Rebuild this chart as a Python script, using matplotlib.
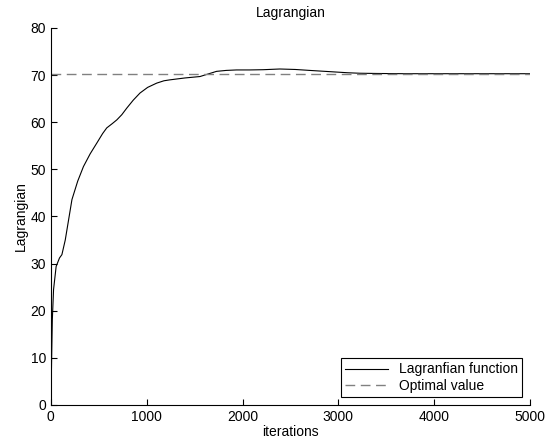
import matplotlib.pyplot as plt

plt.rcParams['font.family'] = ['Liberation Sans', 'DejaVu Sans']

# values
iterations = [0, 8, 15, 28, 55, 90, 115, 150, 220, 280, 340, 410, 480, 540, 583, 640,
              688, 740, 792, 860, 930, 1010, 1104, 1180, 1243, 1400, 1556, 1650, 1729,
              1830, 1937, 2076, 2215, 2389, 2550, 2700, 2940, 3100, 3222, 3400, 3700,
              4000, 4500, 5000]
lagrangian = [0, 10, 18, 24.5, 29.4, 31.2, 31.9, 35, 43.6, 47.5, 50.6, 53.3, 55.6, 57.6,
              58.8, 59.7, 60.5, 61.6, 63, 64.7, 66.2, 67.4, 68.3, 68.8, 69.0, 69.4, 69.7,
              70.3, 70.8, 71.0, 71.1, 71.1, 71.15, 71.3, 71.2, 71.0, 70.7, 70.5, 70.4,
              70.35, 70.3, 70.3, 70.3, 70.3]
optimal_value = 70.3

fig = plt.figure(figsize=(5.47, 4.48), dpi=100)
ax = fig.add_axes([0.093, 0.096, 0.876, 0.8415])

ax.plot(iterations, lagrangian, color='black', lw=0.8, label='Lagranfian function')
ax.axhline(optimal_value, color='#808080', lw=1.0, ls=(0, (7, 4)), label='Optimal value')

ax.set_xlim(0, 5000)
ax.set_ylim(0, 80)
ax.set_xticks(range(0, 5001, 1000))
ax.set_yticks(range(0, 81, 10))
ax.tick_params(direction='in', labelsize=10, length=4)
ax.spines['top'].set_visible(False)
ax.spines['right'].set_visible(False)
for s in ax.spines.values():
    s.set_linewidth(0.8)

ax.set_xlabel('iterations', fontsize=10, labelpad=1)
ax.set_ylabel('Lagrangian', fontsize=10, labelpad=2)
ax.set_title('Lagrangian', fontsize=10, pad=8)

leg = ax.legend(loc='lower right', fontsize=10, fancybox=False, framealpha=1,
                edgecolor='black', handlelength=3.1, borderpad=0.3, labelspacing=0.2,
                borderaxespad=0.55)
leg.get_frame().set_linewidth(0.8)

fig.savefig('out.png', dpi=100)
